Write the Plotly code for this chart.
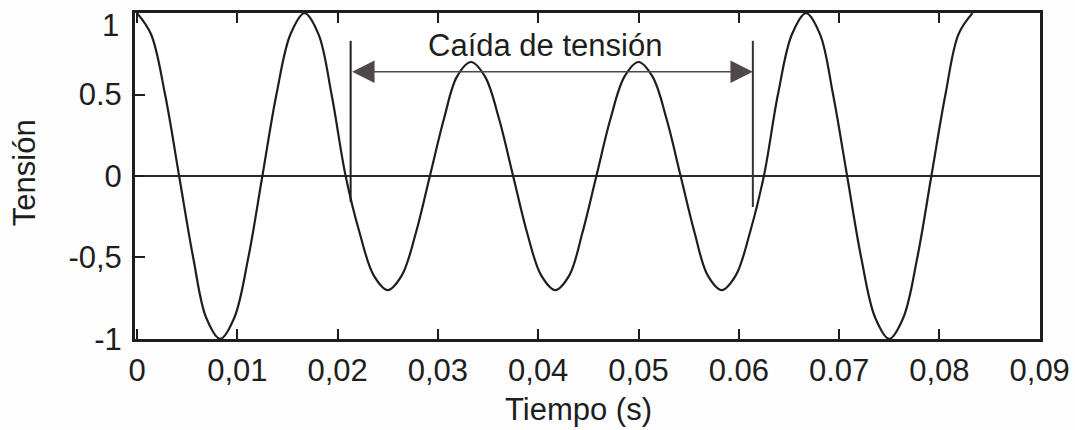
import plotly.graph_objects as go

# ---- data ----
tiempo = [0.0000, 0.0014, 0.0028, 0.0042, 0.0056, 0.0069, 0.0083, 0.0097, 0.0111, 0.0125,
          0.0139, 0.0153, 0.0167, 0.0181, 0.0194, 0.0208, 0.0222, 0.0236, 0.0250, 0.0264,
          0.0278, 0.0292, 0.0306, 0.0319, 0.0333, 0.0347, 0.0361, 0.0375, 0.0389, 0.0403,
          0.0417, 0.0431, 0.0444, 0.0458, 0.0472, 0.0486, 0.0500, 0.0514, 0.0528, 0.0542,
          0.0556, 0.0569, 0.0583, 0.0597, 0.0611, 0.0625, 0.0639, 0.0653, 0.0667, 0.0681,
          0.0694, 0.0708, 0.0722, 0.0736, 0.0750, 0.0764, 0.0778, 0.0792, 0.0806, 0.0819,
          0.0833]
tension = [1.00, 0.87, 0.50, 0.00, -0.50, -0.87, -1.00, -0.87, -0.50, 0.00,
           0.50, 0.87, 1.00, 0.87, 0.50, 0.00, -0.35, -0.61, -0.70, -0.61,
           -0.35, 0.00, 0.35, 0.61, 0.70, 0.61, 0.35, 0.00, -0.35, -0.61,
           -0.70, -0.61, -0.35, 0.00, 0.35, 0.61, 0.70, 0.61, 0.35, 0.00,
           -0.35, -0.61, -0.70, -0.61, -0.35, 0.00, 0.50, 0.87, 1.00, 0.87,
           0.50, 0.00, -0.50, -0.87, -1.00, -0.87, -0.50, 0.00, 0.50, 0.87,
           1.00]

x_tick_vals = [0, 0.01, 0.02, 0.03, 0.04, 0.05, 0.06, 0.07, 0.08, 0.09]
x_tick_text = ["0", "0,01", "0,02", "0,03", "0,04", "0,05", "0.06", "0.07", "0,08", "0,09"]
y_tick_vals = [1, 0.5, 0, -0.5, -1]
y_tick_text = ["", "0.5", "0", "-0,5", "-1"]   # top label "1" drawn below as text
y_top_label = "1"

caida_inicio = 0.0213
caida_fin = 0.0614
marca_arriba = 0.83
marca_abajo_ini = -0.16
marca_abajo_fin = -0.19
flecha_y = 0.64
etiqueta = "Caída de tensión"
etiqueta_x = 0.0407
etiqueta_y = 0.80

FONT = "Liberation Sans, Arial, sans-serif"
INK = "#1e1e1e"

fig = go.Figure()
fig.add_trace(go.Scatter(
    x=tiempo, y=tension, mode="lines",
    line=dict(color=INK, width=2.2, shape="spline", smoothing=1.0),
    showlegend=False, hoverinfo="skip",
))

# zero line
fig.add_shape(type="line", xref="paper", yref="y", x0=0, x1=1, y0=0, y1=0,
              line=dict(color="#2a2a2a", width=2), layer="below")
# sag markers
fig.add_shape(type="line", xref="x", yref="y", x0=caida_inicio, x1=caida_inicio,
              y0=marca_abajo_ini, y1=marca_arriba, line=dict(color=INK, width=2))
fig.add_shape(type="line", xref="x", yref="y", x0=caida_fin, x1=caida_fin,
              y0=marca_abajo_fin, y1=marca_arriba, line=dict(color="#333333", width=2))

# double arrow
fig.add_annotation(x=caida_fin, y=flecha_y, ax=caida_inicio, ay=flecha_y,
                   xref="x", yref="y", axref="x", ayref="y", text="",
                   showarrow=True, arrowhead=2, startarrowhead=2, arrowside="end+start",
                   arrowsize=2.8, startarrowsize=2.8, arrowwidth=1.6, arrowcolor="#4e484c",
                   standoff=0, startstandoff=0)
fig.add_annotation(x=etiqueta_x, y=etiqueta_y, xref="x", yref="y", text=etiqueta,
                   showarrow=False, font=dict(family=FONT, size=31, color=INK))

# top y tick label, sitting slightly below the tick as in the reference
fig.add_annotation(x=0, y=y_tick_vals[0], xref="paper", yref="y", text=y_top_label,
                   showarrow=False, xanchor="right", yanchor="middle",
                   xshift=-14, yshift=-12,
                   font=dict(family=FONT, size=31, color=INK))

# axis titles
fig.add_annotation(x=-0.1225, y=0.509, xref="paper", yref="paper", text="Tensión",
                   textangle=-90, showarrow=False, xanchor="center", yanchor="middle",
                   font=dict(family=FONT, size=31, color=INK))
fig.add_annotation(x=0.4906, y=-0.215, xref="paper", yref="paper", text="Tiempo (s)",
                   showarrow=False, xanchor="center", yanchor="middle",
                   font=dict(family=FONT, size=31, color=INK))

fig.update_layout(
    width=1075, height=430,
    margin=dict(l=135, r=35, t=13, b=91, autoexpand=False),
    paper_bgcolor="#fdfdfd", plot_bgcolor="#ffffff",
    font=dict(family=FONT, size=31, color=INK),
)
fig.update_xaxes(
    range=[-0.0002, 0.09003], tickvals=x_tick_vals, ticktext=x_tick_text,
    ticks="inside", ticklen=10, tickwidth=2, tickcolor=INK,
    showline=True, linewidth=3, linecolor=INK, mirror="ticks",
    showgrid=False, zeroline=False, ticklabelstandoff=2,
    ticklabeloverflow="allow", automargin=False,
    tickfont=dict(family=FONT, size=31, color=INK),
)
fig.update_yaxes(
    range=[-1.0005, 1.0008], tickvals=y_tick_vals, ticktext=y_tick_text,
    ticks="inside", ticklen=10, tickwidth=2, tickcolor=INK,
    showline=True, linewidth=3, linecolor=INK, mirror=True,
    showgrid=False, zeroline=False, ticklabelstandoff=4,
    ticklabeloverflow="allow", automargin=False,
    tickfont=dict(family=FONT, size=31, color=INK),
)

fig.write_html("out.html", config={"displayModeBar": False},
               post_script="document.body.style.margin='0';")
